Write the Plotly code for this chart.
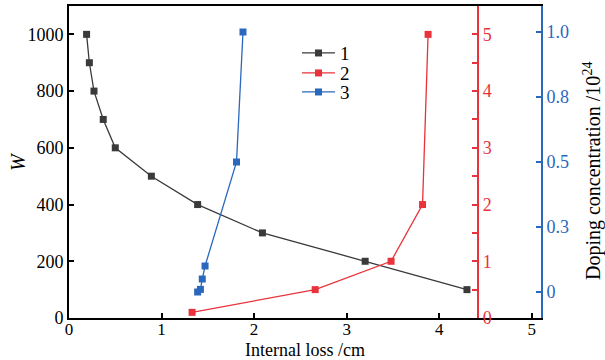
import plotly.graph_objects as go

# Series 1: W vs internal loss (left axis)
s1_x = [0.19, 0.22, 0.27, 0.37, 0.50, 0.89, 1.39, 2.09, 3.20, 4.30]
s1_y = [1000, 900, 800, 700, 600, 500, 400, 300, 200, 100]
# Series 2: red axis
s2_x = [1.33, 2.66, 3.48, 3.82, 3.88]
s2_y = [0.1, 0.5, 1.0, 2.0, 5.0]
# Series 3: doping concentration (blue axis)
s3_x = [1.39, 1.42, 1.44, 1.47, 1.81, 1.88]
s3_y = [0.0, 0.01, 0.05, 0.1, 0.5, 1.0]

x_ticks = [0, 1, 2, 3, 4, 5]
w_ticks = [0, 200, 400, 600, 800, 1000]
red_ticks = [0, 1, 2, 3, 4, 5]
blue_tickvals = [0, 0.25, 0.5, 0.75, 1.0]
blue_ticktext = ["0", "0.3", "0.5", "0.8", "1.0"]

BLACK = "#3a3a3a"
RED = "#e8323c"
BLUE = "#2a68bd"
FONT = "Liberation Serif, DejaVu Serif, serif"

fig = go.Figure()
fig.add_trace(go.Scatter(x=s1_x, y=s1_y, name="1", mode="lines+markers",
                         line=dict(color=BLACK, width=1.3), legend="legend",
                         marker=dict(symbol="square", size=7, color=BLACK), yaxis="y"))
fig.add_trace(go.Scatter(x=s2_x, y=s2_y, name="2", mode="lines+markers",
                         line=dict(color=RED, width=1.3), legend="legend2",
                         marker=dict(symbol="square", size=7, color=RED), yaxis="y2"))
fig.add_trace(go.Scatter(x=s3_x, y=s3_y, name="3", mode="lines+markers",
                         line=dict(color=BLUE, width=1.3), legend="legend3",
                         marker=dict(symbol="square", size=7, color=BLUE), yaxis="y3"))

leg_common = dict(x=0.483, xanchor="left", yanchor="middle",
                  bgcolor="rgba(0,0,0,0)", font=dict(size=19, family=FONT),
                  itemwidth=33)

fig.update_layout(
    width=605, height=360,
    margin=dict(l=69, r=64, t=6, b=42),
    paper_bgcolor="white", plot_bgcolor="white",
    font=dict(family=FONT, size=18, color="black"),
    showlegend=True,
    legend=dict(y=0.849, **leg_common),
    legend2=dict(y=0.785, **leg_common),
    legend3=dict(y=0.724, **leg_common),
    xaxis=dict(range=[0, 5.1], tickvals=x_ticks, ticks="inside", ticklen=5,
               tickwidth=1.5, tickcolor="black", automargin=False,
               ticklabelstandoff=-5, tickfont=dict(size=17),
               showline=True, linecolor="black", linewidth=2, mirror=True,
               showgrid=False, zeroline=False, domain=[0, 1]),
    yaxis=dict(range=[0, 1100], tickvals=w_ticks, ticks="inside", ticklen=5,
               tickwidth=1.5, tickcolor="black", automargin=False,
               showline=True, linecolor="black", linewidth=2,
               showgrid=False, zeroline=False),
    yaxis2=dict(range=[0, 5.5], overlaying="y", anchor="free", position=0.867,
                side="right", tickvals=red_ticks, ticks="inside", ticklen=5,
                tickwidth=1.5, tickcolor=RED, automargin=False,
                minor=dict(dtick=0.5, ticks="inside", ticklen=5, tickcolor=RED, tickwidth=1.5),
                showline=True, linecolor=RED, linewidth=2,
                showgrid=False, zeroline=False,
                tickfont=dict(color=RED, size=18)),
    yaxis3=dict(range=[-0.1, 1.1], overlaying="y", anchor="x", side="right",
                tickvals=blue_tickvals, ticktext=blue_ticktext, automargin=False,
                ticks="inside", ticklen=5, tickwidth=1.5, tickcolor=BLUE,
                showline=True, linecolor=BLUE, linewidth=2,
                showgrid=False, zeroline=False,
                tickfont=dict(color=BLUE, size=18)),
    annotations=[
        dict(text="Internal loss /cm", xref="paper", yref="paper", x=0.5, y=-0.1346,
             showarrow=False, font=dict(size=18, family=FONT),
             xanchor="center", yanchor="bottom", yshift=-2),
        dict(text="<i>W</i>", xref="paper", yref="paper", x=-0.108, y=0.5,
             textangle=-90, showarrow=False, font=dict(size=20, family=FONT),
             xanchor="center", yanchor="middle"),
        dict(text="Doping concentration /10<sup>24</sup>", xref="paper", yref="paper",
             x=1.108, y=0.471, textangle=-90, showarrow=False,
             font=dict(size=20, family=FONT, color="black"),
             xanchor="center", yanchor="middle"),
    ],
)

fig.write_html("out.html", config={"displayModeBar": False},
               post_script="document.body.style.margin='0px';")
